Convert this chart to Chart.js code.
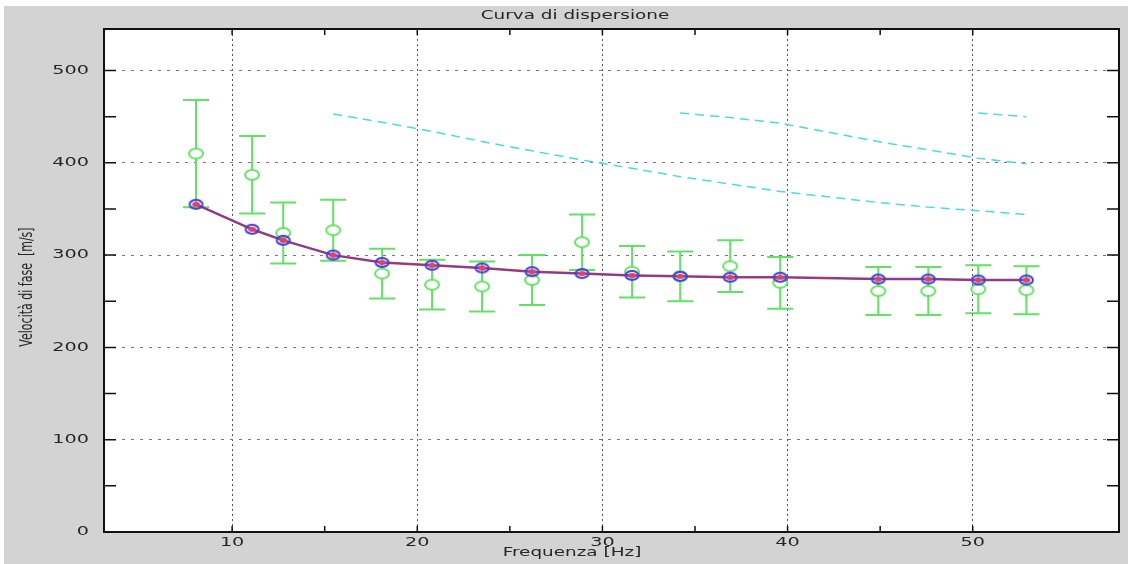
<!DOCTYPE html>
<html>
<head>
<meta charset="utf-8">
<script src="https://cdn.jsdelivr.net/npm/chart.js@4"></script>
<style>
  html, body { margin: 0; padding: 0; background: #fff; }
  canvas { display: block; }
</style>
</head>
<body>
<canvas id="dispChart" width="1128" height="564"></canvas>
<script>
// frequencies [Hz] of the picked points
const freq = [8.05, 11.08, 12.76, 15.46, 18.1, 20.8, 23.5, 26.2, 28.9, 31.6, 34.2, 36.9, 39.6, 44.9, 47.6, 50.3, 52.9];
// theoretical (fundamental mode) phase velocity
const modelVel = [355, 328, 316, 300, 292, 289, 286, 282, 280, 278, 277, 276, 276, 274, 274, 273, 273];
// experimental points and their error
const obsVel = [410, 387, 324, 327, 280, 268, 266, 273, 314, 282, 277, 288, 270, 261, 261, 263, 262];
const obsErr = [58, 42, 33, 33, 27, 27, 27, 27, 30, 28, 27, 28, 28, 26, 26, 26, 26];
// higher modes (dashed cyan)
const mode2Freq = [15.46, 18.1, 20.8, 23.5, 26.2, 28.9, 31.6, 34.2, 36.9, 39.6, 44.9, 47.6, 50.3, 52.9];
const mode2Vel = [453, 444, 434, 423, 413, 403, 394, 385, 377, 369, 357, 352, 348, 344];
const mode3Freq = [34.2, 36.9, 39.6, 44.9, 47.6, 50.3, 52.9];
const mode3Vel = [454, 449, 443, 423, 414, 405, 399];
const mode4Freq = [50.3, 52.9];
const mode4Vel = [454, 450];
// labelled ticks
const xLabels = [10, 20, 30, 40, 50];
const yLabels = [0, 100, 200, 300, 400, 500];

const textColor = '#262626';
const stretch = 1.6;

function toPoints(xs, ys) {
    return xs.map((x, i) => ({ x: x, y: ys[i] }));
}

function ellipseMarker(w, h, stroke, fill, lw, innerFill) {
    const c = document.createElement('canvas');
    c.width = w + lw + 2;
    c.height = h + lw + 2;
    const g = c.getContext('2d');
    g.beginPath();
    g.ellipse(c.width / 2, c.height / 2, w / 2, h / 2, 0, 0, Math.PI * 2);
    g.fillStyle = fill;
    g.fill();
    g.lineWidth = lw;
    g.strokeStyle = stroke;
    g.stroke();
    if (innerFill) {
        g.beginPath();
        g.ellipse(c.width / 2, c.height / 2, w / 2 - 2.5, h / 2 - 2, 0, 0, Math.PI * 2);
        g.fillStyle = innerFill;
        g.fill();
    }
    return c;
}

const greenMarker = ellipseMarker(14, 10, '#62e262', '#fff', 2);
const blueMarker = ellipseMarker(13, 9, '#4040d8', 'rgba(0,0,0,0)', 2, '#e0406e');

function stretchedText(ctx, text, x, y, align) {
    ctx.save();
    ctx.translate(x, y);
    ctx.scale(stretch, 1);
    ctx.textAlign = align;
    ctx.fillText(text, 0, 0);
    ctx.restore();
}

const framePlugin = {
    id: 'frame',
    beforeDraw(chart) {
        const ctx = chart.ctx;
        const a = chart.chartArea;
        ctx.save();
        ctx.fillStyle = '#fff';
        ctx.fillRect(0, 0, chart.width, chart.height);
        ctx.fillStyle = '#d3d3d3';
        ctx.fillRect(4, 6, chart.width - 4, chart.height - 6);
        ctx.fillStyle = '#fff';
        ctx.fillRect(a.left, a.top, a.right - a.left, a.bottom - a.top);
        ctx.restore();
    },
    beforeDatasetsDraw(chart) {
        // error bars of the experimental points
        const ctx = chart.ctx;
        const xs = chart.scales.x, ys = chart.scales.y;
        ctx.save();
        ctx.strokeStyle = '#62e262';
        ctx.lineWidth = 2;
        freq.forEach((f, i) => {
            const x = xs.getPixelForValue(f);
            const yt = ys.getPixelForValue(obsVel[i] + obsErr[i]);
            const yb = ys.getPixelForValue(obsVel[i] - obsErr[i]);
            ctx.beginPath();
            ctx.moveTo(x, yt); ctx.lineTo(x, yb);
            ctx.moveTo(x - 13, yt); ctx.lineTo(x + 13, yt);
            ctx.moveTo(x - 13, yb); ctx.lineTo(x + 13, yb);
            ctx.stroke();
        });
        ctx.restore();
    },
    afterDraw(chart) {
        const ctx = chart.ctx;
        const a = chart.chartArea;
        const xs = chart.scales.x, ys = chart.scales.y;
        ctx.save();
        // box
        ctx.strokeStyle = '#111';
        ctx.lineWidth = 2;
        ctx.strokeRect(a.left, a.top, a.right - a.left, a.bottom - a.top);
        // inward tick marks
        ctx.lineWidth = 1.5;
        ctx.beginPath();
        ys.ticks.forEach(t => {
            const y = ys.getPixelForValue(t.value);
            ctx.moveTo(a.left, y); ctx.lineTo(a.left + 12, y);
            ctx.moveTo(a.right, y); ctx.lineTo(a.right - 12, y);
        });
        xs.ticks.forEach(t => {
            const x = xs.getPixelForValue(t.value);
            ctx.moveTo(x, a.bottom); ctx.lineTo(x, a.bottom - 6);
            ctx.moveTo(x, a.top); ctx.lineTo(x, a.top + 6);
        });
        ctx.stroke();

        // texts
        ctx.fillStyle = textColor;
        ctx.textBaseline = 'middle';
        ctx.font = '12px "DejaVu Sans"';
        yLabels.forEach(v => stretchedText(ctx, String(v), 89, ys.getPixelForValue(v), 'right'));
        xLabels.forEach(v => stretchedText(ctx, String(v), xs.getPixelForValue(v), 543, 'center'));
        ctx.font = '11.5px "DejaVu Sans"';
        stretchedText(ctx, 'Curva di dispersione', 575, 16, 'center');
        stretchedText(ctx, 'Frequenza [Hz]', 572, 553, 'center');

        ctx.font = '11px "DejaVu Sans"';
        ctx.translate(27, 287);
        ctx.scale(stretch, 1);
        ctx.rotate(-Math.PI / 2);
        ctx.textAlign = 'center';
        ctx.fillText('Velocità di fase  [m/s]', 0, 0);
        ctx.restore();
    }
};

const modeStyle = {
    showLine: true,
    borderColor: '#48dcdc',
    borderWidth: 1.5,
    borderDash: [9, 6],
    pointRadius: 0,
    order: 3
};

new Chart(document.getElementById('dispChart'), {
    type: 'scatter',
    data: {
        datasets: [
            Object.assign({ label: 'modo 2', data: toPoints(mode2Freq, mode2Vel) }, modeStyle),
            Object.assign({ label: 'modo 3', data: toPoints(mode3Freq, mode3Vel) }, modeStyle),
            Object.assign({ label: 'modo 4', data: toPoints(mode4Freq, mode4Vel) }, modeStyle),
            {
                label: 'sperimentale',
                data: toPoints(freq, obsVel),
                showLine: false,
                pointStyle: greenMarker,
                order: 2
            },
            {
                label: 'teorica (rosso)',
                data: toPoints(freq, modelVel),
                showLine: true,
                borderColor: '#e03030',
                borderWidth: 2.5,
                pointRadius: 0,
                order: 1.5
            },
            {
                label: 'teorica',
                data: toPoints(freq, modelVel),
                showLine: true,
                borderColor: '#4a4ad8',
                borderWidth: 1.2,
                pointStyle: blueMarker,
                order: 1
            }
        ]
    },
    options: {
        responsive: false,
        animation: false,
        events: [],
        layout: { padding: { left: 0, top: 29, right: 9, bottom: 0 } },
        scales: {
            x: {
                type: 'linear',
                min: 3.08,
                max: 57.9,
                afterFit: s => { s.height = 32; },
                afterBuildTicks: s => { s.ticks = s.ticks.filter(t => t.value >= 10 && t.value <= 50); },
                ticks: { stepSize: 5, includeBounds: false, display: false },
                grid: {
                    drawTicks: false,
                    lineWidth: 1,
                    color: c => (c.tick && c.tick.value % 10 === 0) ? '#555' : 'rgba(0,0,0,0)'
                },
                border: { display: false, dash: [2, 3] }
            },
            y: {
                min: 0,
                max: 545,
                afterFit: s => { s.width = 104; },
                ticks: { stepSize: 50, includeBounds: false, display: false },
                grid: {
                    drawTicks: false,
                    lineWidth: 1,
                    color: c => (c.tick && c.tick.value % 100 === 0 && c.tick.value > 0) ? '#777' : 'rgba(0,0,0,0)'
                },
                border: { display: false, dash: [3, 6] }
            }
        },
        plugins: {
            legend: { display: false },
            title: { display: false },
            tooltip: { enabled: false }
        }
    },
    plugins: [framePlugin]
});
</script>
</body>
</html>
